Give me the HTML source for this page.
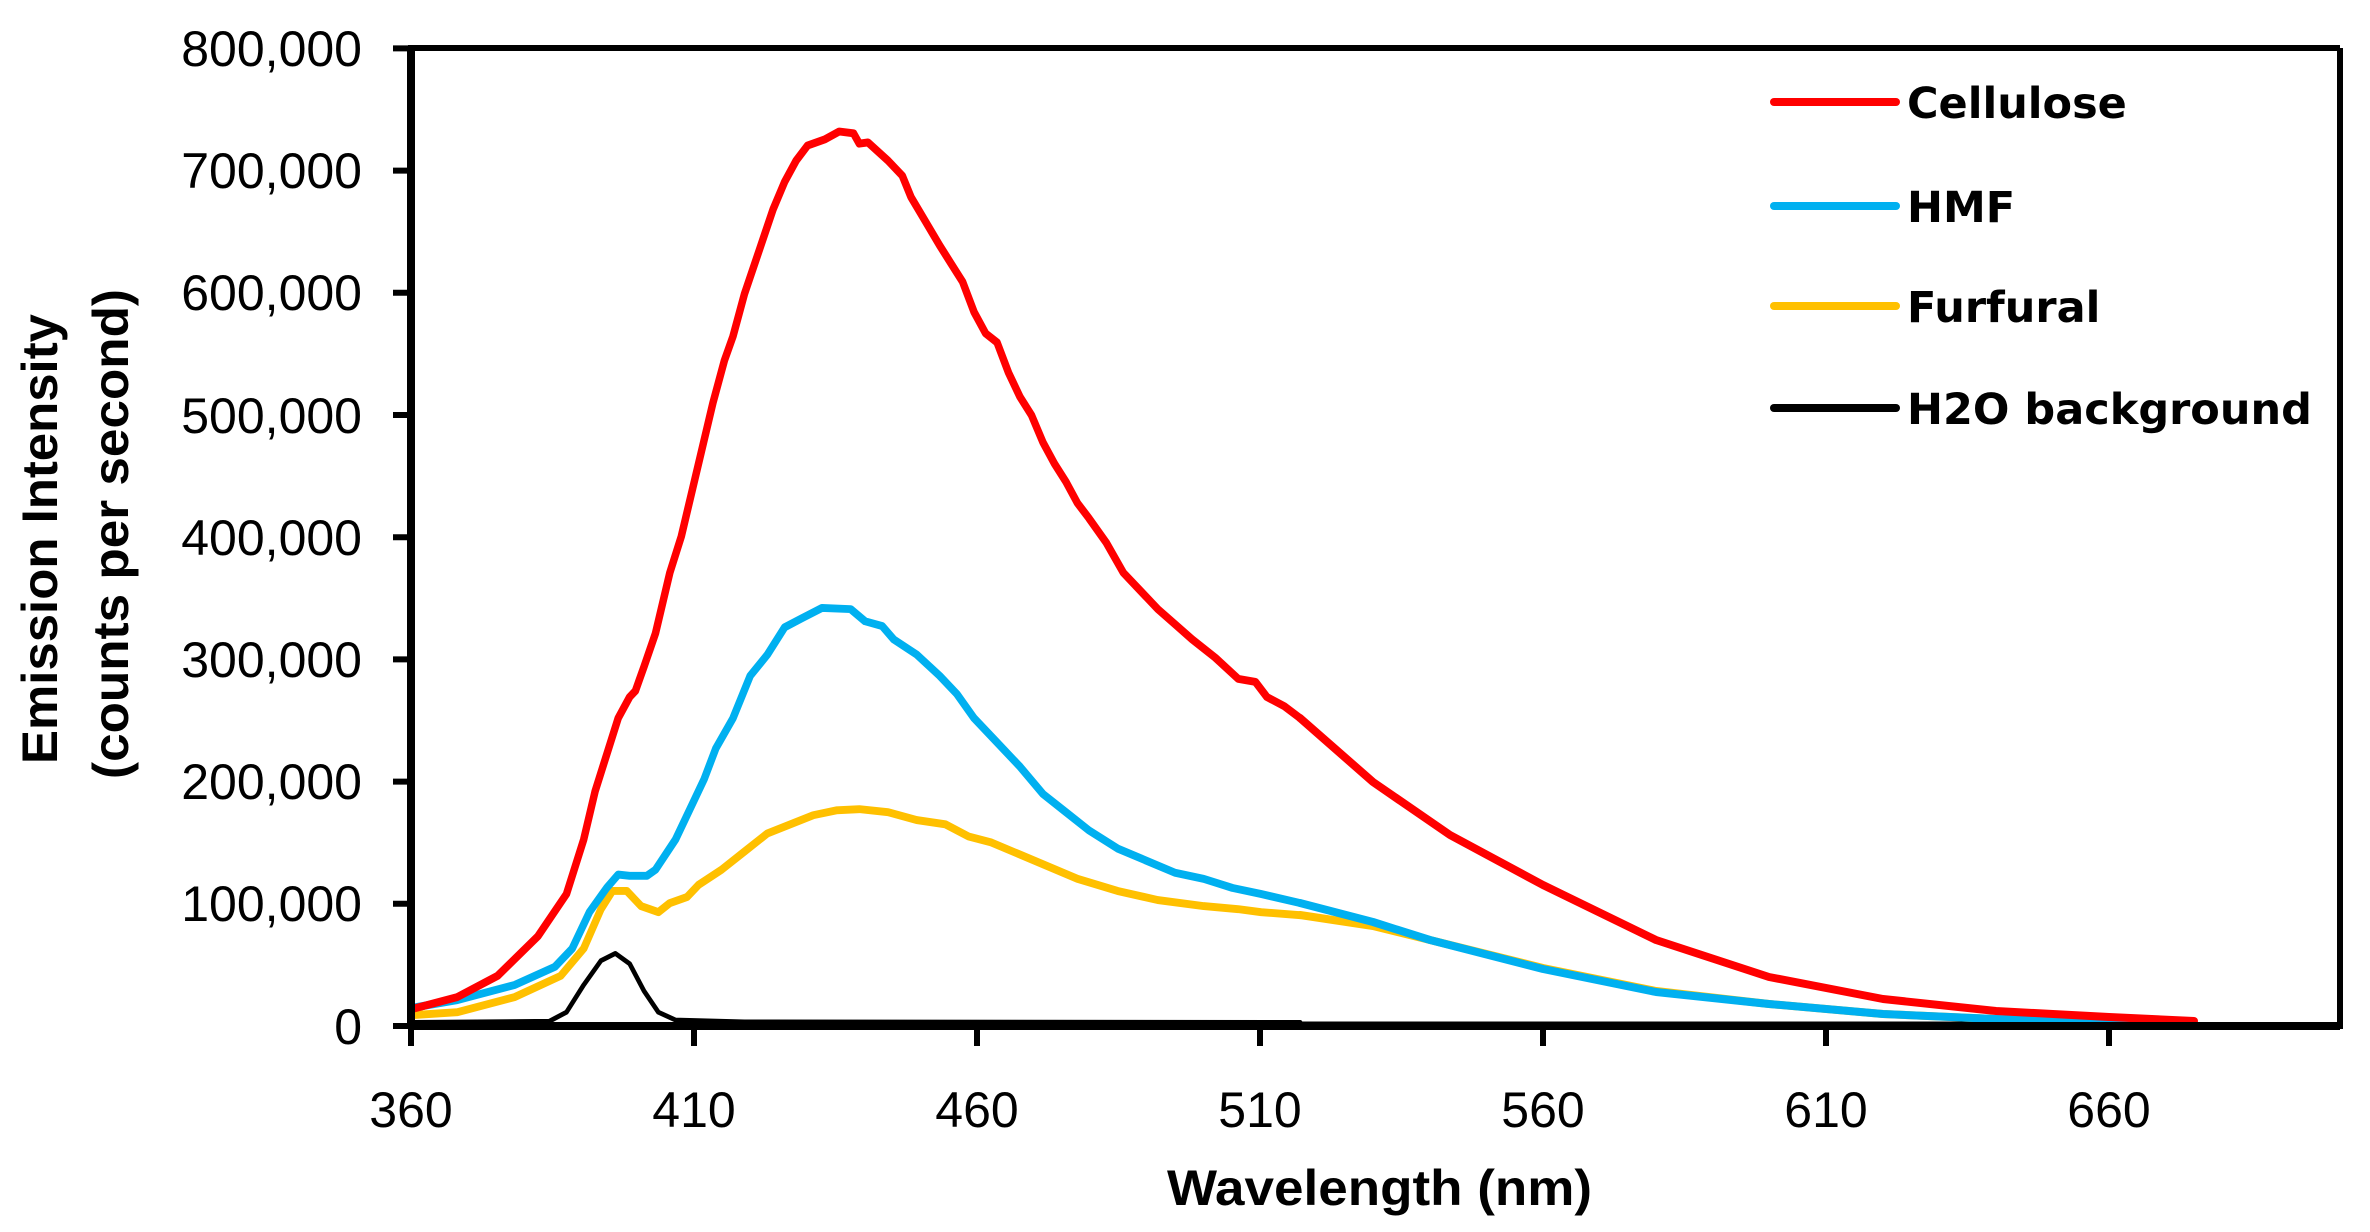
<!DOCTYPE html>
<html><head><meta charset="utf-8"><style>
html,body{margin:0;padding:0;background:#fff;}
svg{display:block;}
</style></head><body>
<svg width="2370" height="1232" viewBox="0 0 2370 1232" xmlns="http://www.w3.org/2000/svg">
<rect width="2370" height="1232" fill="#fff"/>
<g fill="none" stroke-linejoin="round" stroke-linecap="round">
<g transform="translate(400,100) scale(0.5741,0.6061)">
<polyline stroke="#000" stroke-width="8" points="20,1522 260,1520 290,1505 320,1460 350,1420 375,1408 400,1425 425,1470 450,1505 480,1518 600,1521 1568,1522"/>
<polyline stroke="#FFC000" stroke-width="13" points="20,1510 100,1505 200,1480 280,1445 320,1400 350,1335 370,1305 395,1305 420,1330 450,1340 470,1325 500,1315 520,1295 560,1270 600,1240 640,1210 680,1195 720,1180 760,1172 800,1170 850,1175 900,1188 950,1195 990,1215 1030,1225 1080,1245 1130,1265 1180,1285 1250,1305 1320,1320 1400,1330 1460,1335 1500,1340 1568,1345"/>
<polyline stroke="#00B0F0" stroke-width="13" points="20,1498 100,1485 200,1460 270,1430 300,1400 330,1340 360,1300 380,1278 400,1280 430,1280 445,1270 480,1220 510,1160 530,1120 550,1070 580,1020 610,950 640,915 670,870 700,855 735,838 785,840 810,860 840,868 860,890 900,915 940,950 970,980 1000,1020 1040,1060 1080,1100 1120,1145 1160,1175 1200,1205 1250,1235 1300,1255 1350,1275 1400,1285 1450,1300 1500,1310 1568,1325"/>
<polyline stroke="#FF0000" stroke-width="13" points="20,1500 100,1480 170,1445 240,1380 290,1310 320,1220 340,1140 360,1080 380,1020 400,985 410,975 425,935 445,880 470,780 490,720 510,640 525,580 545,500 565,430 580,390 600,320 625,250 650,180 670,135 690,100 710,75 740,65 765,52 790,55 800,72 815,70 850,100 875,125 890,160 915,200 940,240 960,270 980,300 1000,350 1020,385 1040,400 1060,450 1080,490 1100,520 1120,565 1140,600 1160,630 1180,665 1200,690 1230,730 1260,780 1290,810 1320,840 1350,865 1380,890 1420,920 1460,955 1490,960 1510,985 1540,1000 1568,1020"/>
</g>
<polyline stroke="#000" stroke-width="5" points="1300,1024 2194,1024"/>
<polyline stroke="#FFC000" stroke-width="8" points="1300,915 1373,926 1430,940 1543,968 1656,991 1769,1004 1883,1014 1996,1019 2109,1022 2194,1024"/>
<polyline stroke="#00B0F0" stroke-width="8" points="1300,903 1373,922 1430,940 1543,969 1656,992 1769,1004 1883,1014 1996,1019 2109,1022 2194,1024"/>
<polyline stroke="#FF0000" stroke-width="8" points="1300,718 1373,782 1450,835 1543,885 1656,940 1769,977 1883,999 1996,1011 2109,1017 2194,1021"/>
</g>
<g stroke="#000" fill="none">
<polyline points="2340,48 2340,1026 411,1026 411,48 2340,48" stroke-width="6"/>
<line x1="411" y1="1026" x2="411" y2="48" stroke-width="8"/>
<line x1="411" y1="1026" x2="2340" y2="1026" stroke-width="8"/>
</g>
<g stroke="#000" stroke-width="6">
<line x1="393" y1="48.4" x2="411" y2="48.4"/>
<line x1="393" y1="170.6" x2="411" y2="170.6"/>
<line x1="393" y1="292.8" x2="411" y2="292.8"/>
<line x1="393" y1="415" x2="411" y2="415"/>
<line x1="393" y1="537.2" x2="411" y2="537.2"/>
<line x1="393" y1="659.4" x2="411" y2="659.4"/>
<line x1="393" y1="781.6" x2="411" y2="781.6"/>
<line x1="393" y1="903.8" x2="411" y2="903.8"/>
<line x1="393" y1="1026" x2="411" y2="1026"/>
<line x1="411" y1="1026" x2="411" y2="1046"/>
<line x1="694" y1="1026" x2="694" y2="1046"/>
<line x1="977" y1="1026" x2="977" y2="1046"/>
<line x1="1260" y1="1026" x2="1260" y2="1046"/>
<line x1="1543" y1="1026" x2="1543" y2="1046"/>
<line x1="1826" y1="1026" x2="1826" y2="1046"/>
<line x1="2109" y1="1026" x2="2109" y2="1046"/>
</g>
<g font-family="Liberation Sans, sans-serif" font-size="50" fill="#000" text-anchor="end">
<text x="362" y="66">800,000</text>
<text x="362" y="188">700,000</text>
<text x="362" y="310">600,000</text>
<text x="362" y="433">500,000</text>
<text x="362" y="555">400,000</text>
<text x="362" y="677">300,000</text>
<text x="362" y="799">200,000</text>
<text x="362" y="921">100,000</text>
<text x="362" y="1044">0</text>
</g>
<g font-family="Liberation Sans, sans-serif" font-size="50" fill="#000" text-anchor="middle">
<text x="411" y="1127">360</text>
<text x="694" y="1127">410</text>
<text x="977" y="1127">460</text>
<text x="1260" y="1127">510</text>
<text x="1543" y="1127">560</text>
<text x="1826" y="1127">610</text>
<text x="2109" y="1127">660</text>
</g>
<text x="1167" y="1205" font-family="Liberation Sans, sans-serif" font-weight="bold" font-size="50" textLength="425" lengthAdjust="spacingAndGlyphs">Wavelength (nm)</text>
<text transform="translate(57,764) rotate(-90)" font-family="Liberation Sans, sans-serif" font-weight="bold" font-size="50" textLength="450" lengthAdjust="spacingAndGlyphs">Emission Intensity</text>
<text transform="translate(128,779) rotate(-90)" font-family="Liberation Sans, sans-serif" font-weight="bold" font-size="50" textLength="490" lengthAdjust="spacingAndGlyphs">(counts per second)</text>
<g stroke-width="8" stroke-linecap="round">
<line x1="1774" y1="102" x2="1896" y2="102" stroke="#FF0000"/>
<line x1="1774" y1="206" x2="1896" y2="206" stroke="#00B0F0"/>
<line x1="1774" y1="306" x2="1896" y2="306" stroke="#FFC000"/>
<line x1="1774" y1="408" x2="1896" y2="408" stroke="#000"/>
</g>
<g font-family="DejaVu Sans, sans-serif" font-weight="bold" font-size="43" fill="#000">
<text x="1907" y="118">Cellulose</text>
<text x="1907" y="222">HMF</text>
<text x="1907" y="322">Furfural</text>
<text x="1907" y="424">H2O background</text>
</g>
</svg>
</body></html>
